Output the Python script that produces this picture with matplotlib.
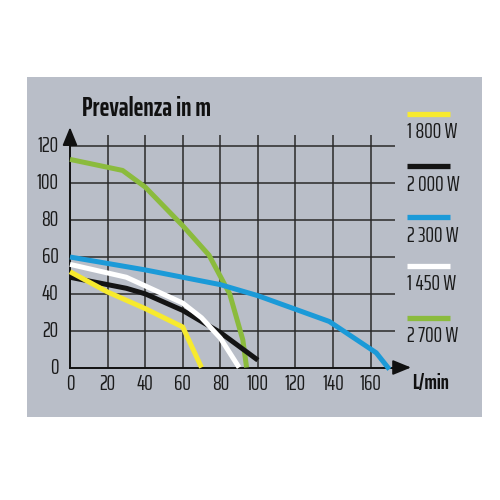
import matplotlib.pyplot as plt
from matplotlib.lines import Line2D
from matplotlib.patches import Rectangle

# flow in L/min, head in m
yellow_x = [0, 20, 40, 60, 70]
yellow_y = [52, 41, 32, 22, 0]

black_x = [0, 30, 40, 60, 80, 100]
black_y = [49, 43, 40, 31, 19, 4]

white_x = [0, 30, 60, 70, 80, 90]
white_y = [56, 49, 35, 27, 16, 0]

blue_x = [0, 40, 80, 100, 138, 163, 170]
blue_y = [60, 53, 45, 39, 25, 8, -1]

green_x = [0, 28, 40, 60, 74, 85, 92, 94]
green_y = [113, 107, 98, 77, 61, 40, 15, 0]

legend_labels = ["1 800 W", "2 000 W", "2 300 W", "1 450 W", "2 700 W"]
legend_colors = ["#f7ea2e", "#141414", "#1b9ad8", "#ffffff", "#8bbb3d"]

x_ticks = [0, 20, 40, 60, 80, 100, 120, 140, 160]
y_ticks = [0, 20, 40, 60, 80, 100, 120]

FONT = ["Saira ExtraCondensed", "DejaVu Sans"]
BG = "#b9bec8"
GRID = "#2a2a2a"

fig = plt.figure(figsize=(5, 5), dpi=100)
fig.patch.set_facecolor("white")
fig.add_artist(Rectangle((0.054, 0.166), 0.91, 0.68, transform=fig.transFigure,
                         facecolor=BG, edgecolor="none", zorder=0))

ax = fig.add_axes([0.14, 0.265, 0.65, 0.442])
ax.set_facecolor("none")
ax.set_xlim(0, 173)
ax.set_ylim(0, 120)
for s in ax.spines.values():
    s.set_visible(False)
ax.set_xticks([])
ax.set_yticks([])

# grid
ax.vlines(x_ticks[1:], 0, 126, color=GRID, lw=1.1, clip_on=False, zorder=1)
ax.hlines(y_ticks[1:], 0, 173, color=GRID, lw=1.1, clip_on=False, zorder=1)

# axes with arrows
ax.plot([0, 0], [0, 124], color="#111111", lw=1.4, clip_on=False, zorder=2)
ax.plot([0, 174], [0, 0], color="#111111", lw=1.4, clip_on=False, zorder=2)
ax.annotate("", xy=(0, 132), xytext=(0, 122), annotation_clip=False,
            arrowprops=dict(arrowstyle="-|>,head_length=1.1,head_width=0.45",
                            color="#111111", lw=1.4))
ax.annotate("", xy=(183, 0), xytext=(172, 0), annotation_clip=False,
            arrowprops=dict(arrowstyle="-|>,head_length=1.1,head_width=0.45",
                            color="#111111", lw=1.4))

# curves
series = [
    (green_x, green_y, legend_colors[4]),
    (blue_x, blue_y, legend_colors[2]),
    (black_x, black_y, legend_colors[1]),
    (white_x, white_y, legend_colors[3]),
    (yellow_x, yellow_y, legend_colors[0]),
]
for xs, ys, c in series:
    ax.plot(xs, ys, color=c, lw=3.6, solid_capstyle="butt",
            solid_joinstyle="round", clip_on=False, zorder=3)

# tick labels
for t in x_ticks:
    ax.text(t, -3.5, str(t), ha="center", va="top", fontsize=15.5,
            family=FONT, color="#1a1a1a")
for t in y_ticks:
    ax.text(-6, t, str(t), ha="right", va="center", fontsize=15.5,
            family=FONT, color="#1a1a1a")

fig.text(0.164, 0.784, "Prevalenza in m", fontsize=19, fontweight="bold",
         family=FONT, color="#111111", va="center", ha="left")
fig.text(0.824, 0.234, "L/min", fontsize=15, fontweight="bold",
         family=FONT, color="#111111", va="center", ha="left")

# legend
bar_y = [0.773, 0.668, 0.567, 0.469, 0.365]
for lbl, c, by in zip(legend_labels, legend_colors, bar_y):
    fig.add_artist(Line2D([0.814, 0.900], [by, by], transform=fig.transFigure,
                          color=c, lw=3.8, solid_capstyle="butt"))
    fig.text(0.814, by - 0.038, lbl, fontsize=15.5, family=FONT,
             color="#1a1a1a", va="center", ha="left")

fig.savefig("out.png", dpi=100, facecolor="white")
